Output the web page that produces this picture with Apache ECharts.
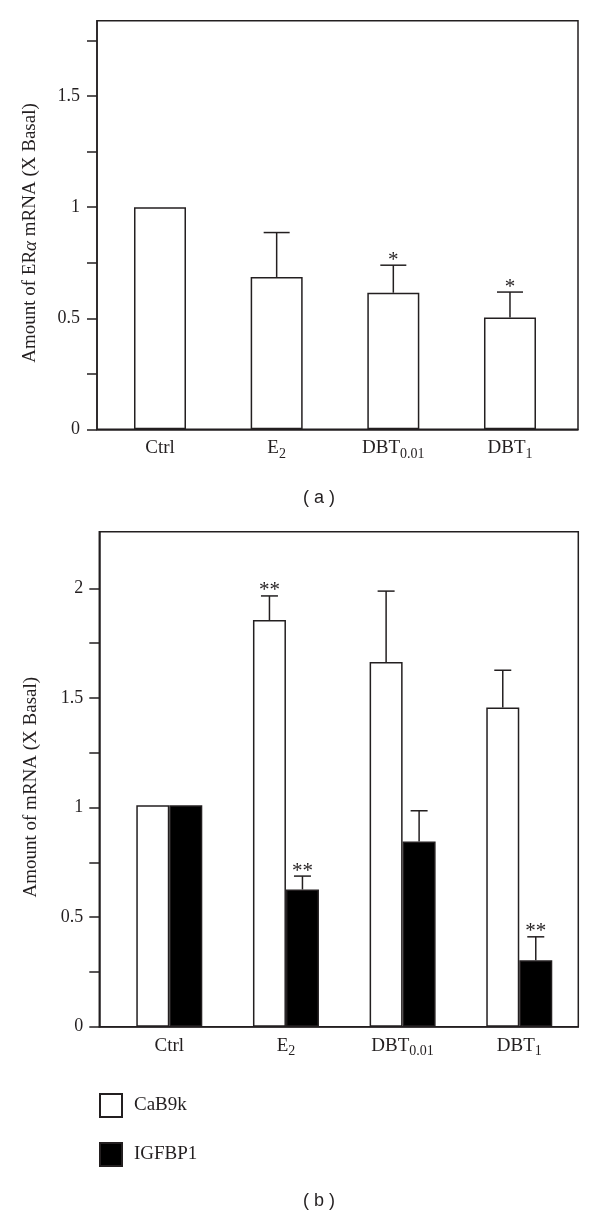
<!DOCTYPE html>
<html>
<head>
<meta charset="utf-8">
<script src="https://cdn.jsdelivr.net/npm/echarts@6/dist/echarts.min.js"></script>
<style>
  html, body { margin: 0; padding: 0; background: #fff; }
  #chart { width: 600px; height: 1216px; }
</style>
</head>
<body>
<div id="chart"></div>
<script>
// ---- data ----
const categories = ['Ctrl', 'E2', 'DBT0.01', 'DBT1'];
const catLabels = ['Ctrl', 'E{sub|2}', 'DBT{sub|0.01}', 'DBT{sub|1}'];
const catPos = [1, 2, 3, 4];

// panel (a): ERalpha mRNA
const eraMean = [1.0, 0.686, 0.615, 0.503];
const eraErr = [0, 0.20, 0.124, 0.115];
const eraSig = ['', '', '*', '*'];

// panel (b)
const cab9kMean = [1.01, 1.855, 1.664, 1.456];
const cab9kErr = [0, 0.11, 0.323, 0.17];
const cab9kSig = ['', '**', '', ''];
const igfbp1Mean = [1.01, 0.626, 0.845, 0.303];
const igfbp1Err = [0, 0.061, 0.14, 0.107];
const igfbp1Sig = ['', '**', '', '**'];

const yTicksA = [0, 0.25, 0.5, 0.75, 1, 1.25, 1.5, 1.75];
const yLabelsA = [0, 0.5, 1, 1.5];
const yTicksB = [0, 0.25, 0.5, 0.75, 1, 1.25, 1.5, 1.75, 2];
const yLabelsB = [0, 0.5, 1, 1.5, 2];

// ---- styles ----
const INK = '#231f20';
const SERIF = '"Liberation Serif", "DejaVu Serif", serif';
const SANS = '"Liberation Sans", Arial, sans-serif';
const lineStyle = { color: INK, width: 1.5 };

const xRich = {
  m: { fontFamily: SERIF, fontSize: 19, color: INK, lineHeight: 26 },
  sub: { fontFamily: SERIF, fontSize: 14, color: INK, lineHeight: 14, padding: [12, 0, 0, 0] }
};
function xLabelFmt(v) {
  const i = catPos.indexOf(Math.round(v));
  if (i < 0) return '';
  const s = catLabels[i];
  return s.replace(/^([^{]+)/, '{m|$1}');
}

function errorBarSeries(name, xAxisIndex, yAxisIndex, means, errs, sigs, dx, capHalf) {
  return {
    name: name + '-err',
    type: 'custom',
    xAxisIndex, yAxisIndex,
    z: 5,
    silent: true,
    clip: false,
    legendHoverLink: false,
    data: means.map((m, i) => [catPos[i], m, m + errs[i]]),
    renderItem: function (params, api) {
      const i = params.dataIndex;
      const x = api.value(0);
      const p0 = api.coord([x, api.value(1)]);
      const p1 = api.coord([x, api.value(2)]);
      const cx = p0[0] + dx;
      const children = [];
      if (errs[i] > 0) {
        children.push({ type: 'line', shape: { x1: cx, y1: p0[1], x2: cx, y2: p1[1] }, style: { stroke: INK, lineWidth: 1.5 } });
        children.push({ type: 'line', shape: { x1: cx - capHalf, y1: p1[1], x2: cx + capHalf, y2: p1[1] }, style: { stroke: INK, lineWidth: 1.5 } });
      }
      if (sigs[i]) {
        children.push({ type: 'text', x: cx, y: p1[1] - 5, style: { text: sigs[i], font: '21px ' + SERIF, fill: INK, align: 'center', verticalAlign: 'middle' } });
      }
      return { type: 'group', children };
    }
  };
}

const option = {
  animation: false,
  backgroundColor: '#fff',
  title: [
    { text: '( a )', left: 303, top: 489, padding: 0, textStyle: { fontFamily: SANS, fontSize: 18, fontWeight: 'normal', color: INK } },
    { text: '( b )', left: 303, top: 1192, padding: 0, textStyle: { fontFamily: SANS, fontSize: 18, fontWeight: 'normal', color: INK } }
  ],
  legend: {
    data: ['CaB9k', 'IGFBP1'],
    orient: 'vertical',
    left: 99, top: 1093,
    padding: 0,
    itemWidth: 22, itemHeight: 23, itemGap: 24,
    icon: 'rect',
    selectedMode: false,
    textStyle: { fontFamily: SERIF, fontSize: 19, color: INK, padding: [0, 0, 0, 7] }
  },
  grid: [
    { left: 97, top: 20.7, width: 481, height: 408.6, show: true, borderColor: INK, borderWidth: 1.5, backgroundColor: 'transparent' },
    { left: 99.3, top: 531.7, width: 479, height: 495, show: true, borderColor: INK, borderWidth: 1.5, backgroundColor: 'transparent' }
  ],
  xAxis: [
    {
      gridIndex: 0, type: 'value', min: 0.46, max: 4.583,
      axisLine: { show: true, onZero: false, lineStyle },
      axisTick: { show: false }, splitLine: { show: false },
      axisLabel: { customValues: catPos, formatter: xLabelFmt, rich: xRich, margin: 6 }
    },
    {
      gridIndex: 1, type: 'value', min: 0.4, max: 4.506,
      axisLine: { show: true, onZero: false, lineStyle },
      axisTick: { show: false }, splitLine: { show: false },
      axisLabel: { customValues: catPos, formatter: xLabelFmt, rich: xRich, margin: 6 }
    }
  ],
  yAxis: [
    {
      gridIndex: 0, type: 'value', min: 0, max: 1.84,
      axisLine: { show: true, lineStyle },
      axisTick: { show: true, length: 10, lineStyle, customValues: yTicksA },
      axisLabel: { customValues: yLabelsA, formatter: v => String(v), margin: 17, fontFamily: SERIF, fontSize: 18, color: INK },
      splitLine: { show: false },
      name: 'Amount of ER{it|α} mRNA (X Basal)',
      nameLocation: 'middle', nameGap: 57,
      nameTextStyle: { fontFamily: SERIF, fontSize: 19, color: INK, padding: [0, 16, 0, 0], rich: { it: { fontFamily: SERIF, fontSize: 19, color: INK, fontStyle: 'italic' } } }
    },
    {
      gridIndex: 1, type: 'value', min: 0, max: 2.258,
      axisLine: { show: true, lineStyle },
      axisTick: { show: true, length: 10, lineStyle, customValues: yTicksB },
      axisLabel: { customValues: yLabelsB, formatter: v => String(v), margin: 16, fontFamily: SERIF, fontSize: 18, color: INK },
      splitLine: { show: false },
      name: 'Amount of mRNA (X Basal)',
      nameLocation: 'middle', nameGap: 59,
      nameTextStyle: { fontFamily: SERIF, fontSize: 19, color: INK, padding: [0, 16, 0, 0] }
    }
  ],
  series: [
    {
      name: 'ERa', type: 'bar', xAxisIndex: 0, yAxisIndex: 0,
      barWidth: 52,
      itemStyle: { color: '#fff', borderColor: INK, borderWidth: 1.5 },
      data: eraMean.map((m, i) => [catPos[i], m])
    },
    errorBarSeries('ERa', 0, 0, eraMean, eraErr, eraSig, 0, 13),
    {
      name: 'CaB9k', type: 'bar', xAxisIndex: 1, yAxisIndex: 1,
      barWidth: 33, barGap: '0%',
      itemStyle: { color: '#fff', borderColor: INK, borderWidth: 1.5 },
      data: cab9kMean.map((m, i) => [catPos[i], m])
    },
    {
      name: 'IGFBP1', type: 'bar', xAxisIndex: 1, yAxisIndex: 1,
      barWidth: 33, barGap: '0%',
      itemStyle: { color: '#000', borderColor: INK, borderWidth: 1.5 },
      data: igfbp1Mean.map((m, i) => [catPos[i], m])
    },
    errorBarSeries('CaB9k', 1, 1, cab9kMean, cab9kErr, cab9kSig, -16.5, 8.5),
    errorBarSeries('IGFBP1', 1, 1, igfbp1Mean, igfbp1Err, igfbp1Sig, 16.5, 8.5)
  ]
};

const chart = echarts.init(document.getElementById('chart'), null, { renderer: 'canvas' });
chart.setOption(option);
</script>
</body>
</html>
